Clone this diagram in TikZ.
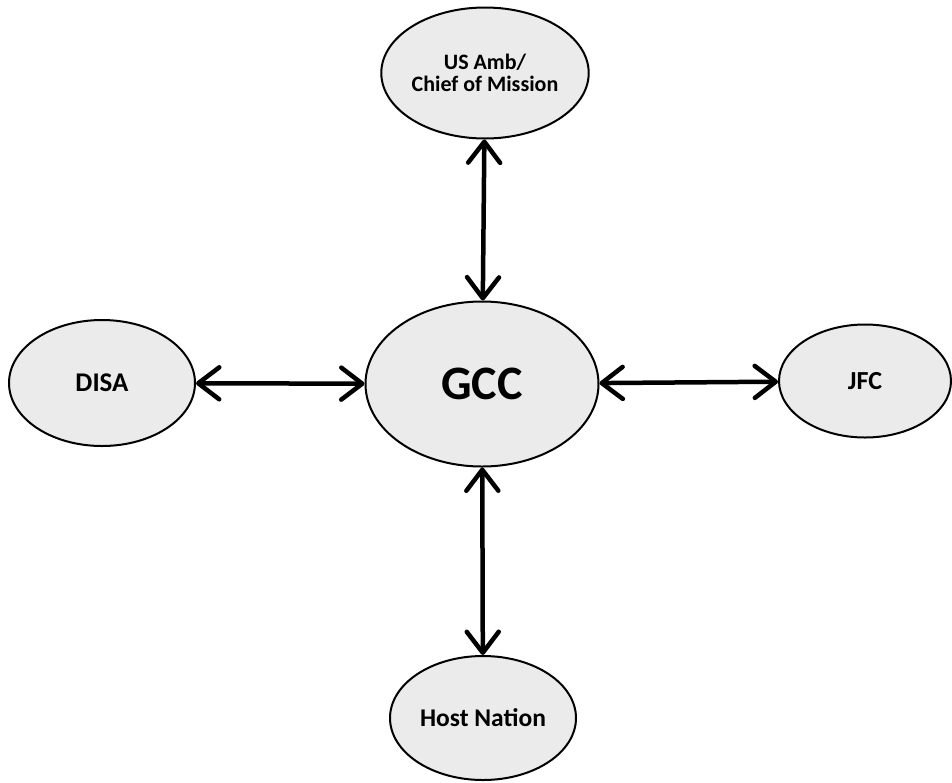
\documentclass[tikz,border=0pt]{standalone}
\usepackage{fontspec}
\setmainfont{Carlito}
\usepackage{tikz}
\usetikzlibrary{arrows.meta,shapes.geometric}

\begin{document}
\begin{tikzpicture}[x=1pt, y=-1pt, every node/.style={font=\bfseries}, >={Straight Barb[length=21pt, width=32pt, round]},
	bubble/.style={ellipse, draw, line width=2pt, fill=black!8, inner sep=0pt, align=center},
	link/.style={<->, line width=4.5pt}]
	\useasboundingbox (0,0) rectangle (952,782);
	\node[bubble, minimum width=196pt, minimum height=131pt, font=\bfseries\fontsize{22}{22}\selectfont] (amb) at (485,73) {US Amb/\\Chief of Mission};
	\node[bubble, minimum width=233pt, minimum height=165pt, font=\bfseries\fontsize{48}{48}\selectfont] (gcc) at (482,384) {GCC};
	\node[bubble, minimum width=186pt, minimum height=126pt, font=\bfseries\fontsize{27}{27}\selectfont] (disa) at (102,383) {DISA};
	\node[bubble, minimum width=172pt, minimum height=113pt, font=\bfseries\fontsize{26}{26}\selectfont] (jfc) at (865,381) {JFC};
	\node[bubble, minimum width=186pt, minimum height=124pt, font=\bfseries\fontsize{25.5}{25.5}\selectfont] (host) at (483,718) {Host Nation};
	\draw[link] (amb) -- (gcc);
	\draw[link] (disa) -- (gcc);
	\draw[link] (gcc) -- (jfc);
	\draw[link] (gcc) -- (host);
\end{tikzpicture}
\end{document}
